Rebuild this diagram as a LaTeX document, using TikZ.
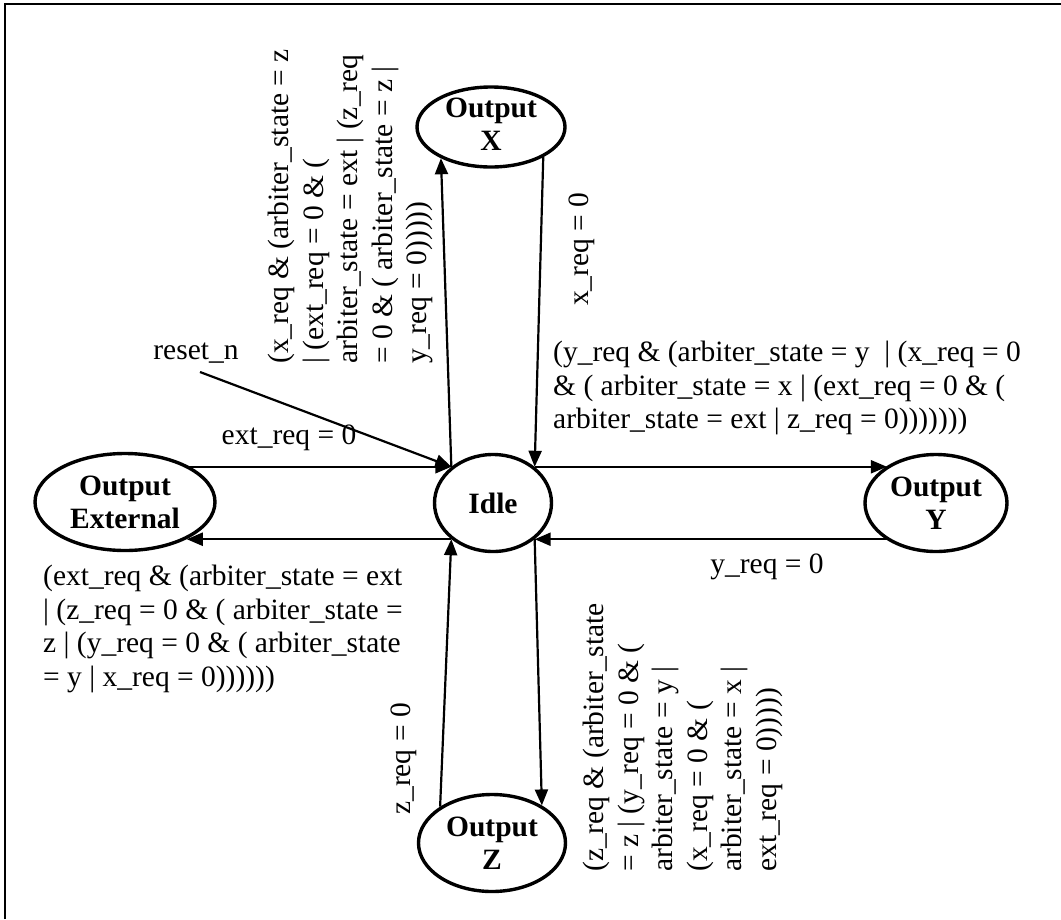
\documentclass[tikz,border=0pt]{standalone}
\usepackage{fontspec}
\setmainfont{Liberation Serif}
\usetikzlibrary{shapes.geometric,arrows.meta}
\begin{document}
\begin{tikzpicture}[x=1pt,y=-1pt,
  state/.style={ellipse, draw, line width=3.4pt, inner sep=0pt, align=center,
    font=\bfseries\fontsize{29.5}{33}\selectfont},
  arr/.style={line width=2.2pt, -{Triangle[length=16pt,width=13pt]}},
  lbl/.style={inner sep=0pt, align=left, font=\fontsize{29.5}{33.5}\selectfont},
  rlbl/.style={lbl, rotate=90, font=\fontsize{29.5}{34.5}\selectfont}
]
\useasboundingbox (0,0) rectangle (1061,919);
\draw[line width=2pt] (5,919) -- (5,4) -- (1061,4);

% states
\node[state, minimum width=117pt, minimum height=97pt] (idle) at (493,503) {Idle};
\node[state, minimum width=180pt, minimum height=97pt] (ext) at (125,502) {Output\\External};
\node[state, minimum width=142pt, minimum height=97pt] (outy) at (936,503) {Output\\Y};
\node[state, minimum width=148pt, minimum height=80pt, text depth=6pt, inner ysep=-6pt] (outx) at (491,127) {Output\\X};
\node[state, minimum width=147pt, minimum height=97pt] (outz) at (492,843) {Output\\Z};

% transitions
\draw[arr] (idle.139 -| ext.31) -- (idle.139);
\draw[arr] (idle.221) -- (idle.221 -| ext.-31);
\draw[arr] (idle.41) -- (idle.41 -| outy.143);
\draw[arr] (idle.319 -| outy.217) -- (idle.319);
\draw[arr] (idle.139) -- (outx.212);
\draw[arr] (outx.-30) -- (idle.41);
\draw[arr] (outz.145) -- (idle.221);
\draw[arr] (idle.319) -- (outz.37);
\coordinate (rst) at (200,372);
\draw[arr] (rst) -- (idle.139);

% labels
\node[lbl] (lrst) at (196,353) {reset\_n};
\node[lbl] (lext0) at (289,438) {ext\_req = 0};
\node[lbl] (ly0) at (767,567) {y\_req = 0};
\node[lbl, anchor=north west] (lyc) at (553,341)
  {(y\_req \& (arbiter\_state = y~ | (x\_req = 0\\\& ( arbiter\_state = x | (ext\_req = 0 \& (\\arbiter\_state = ext | z\_req = 0)))))))};
\node[lbl, anchor=north west] (lec) at (43,565)
  {(ext\_req \& (arbiter\_state = ext\\| (z\_req = 0 \& ( arbiter\_state =\\z | (y\_req = 0 \& ( arbiter\_state\\= y | x\_req = 0))))))};
\node[rlbl, anchor=north west] (lxc) at (268,364)
  {(x\_req \& (arbiter\_state = z\\| (ext\_req = 0 \& (\\arbiter\_state = ext | (z\_req\\= 0 \& ( arbiter\_state = z |\\y\_req = 0)))))};
\node[rlbl, anchor=north west] (lzc) at (583,872)
  {(z\_req \& (arbiter\_state\\= z | (y\_req = 0 \& (\\arbiter\_state = y |\\(x\_req = 0 \& (\\arbiter\_state = x |\\ext\_req = 0)))))};
\node[rlbl, anchor=base west] (lx0) at (588,306) {x\_req = 0};
\node[rlbl, anchor=base west] (lz0) at (410,815) {z\_req = 0};
\end{tikzpicture}
\end{document}
